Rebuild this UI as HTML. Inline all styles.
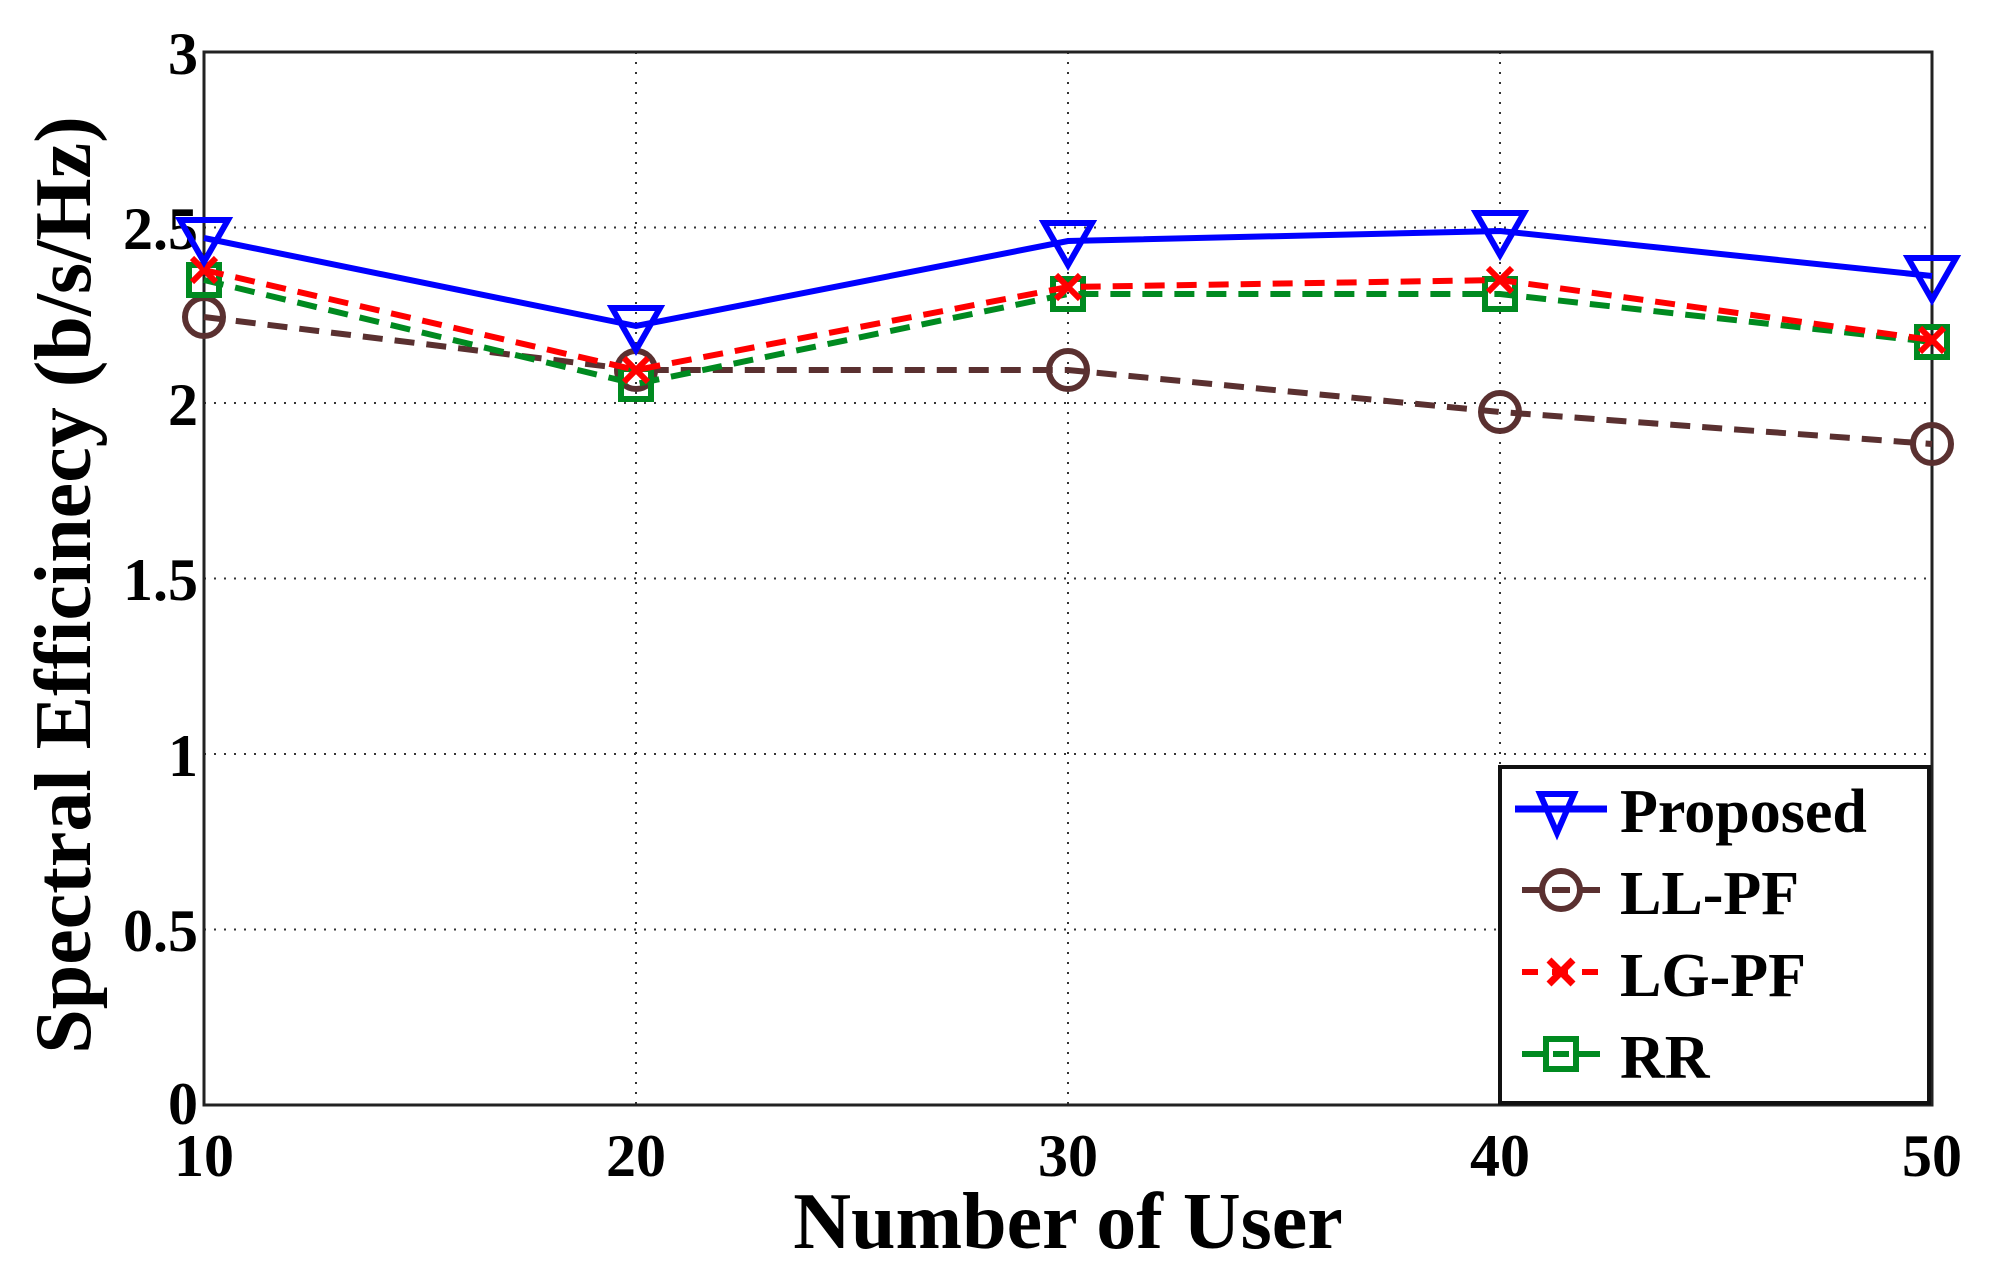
<!DOCTYPE html>
<html><head><style>body{margin:0;background:#fff}svg{display:block}</style></head><body>
<svg width="1993" height="1272" viewBox="0 0 1993 1272" xmlns="http://www.w3.org/2000/svg" font-family="Liberation Serif, serif" font-weight="bold">
<rect width="1993" height="1272" fill="#fff"/>
<g stroke="#333" stroke-width="2" stroke-dasharray="2,8">
<line x1="636" y1="52" x2="636" y2="1105"/><line x1="1068" y1="52" x2="1068" y2="1105"/><line x1="1500" y1="52" x2="1500" y2="1105"/>
<line x1="204" y1="227.5" x2="1932" y2="227.5"/><line x1="204" y1="403" x2="1932" y2="403"/><line x1="204" y1="578.5" x2="1932" y2="578.5"/><line x1="204" y1="754" x2="1932" y2="754"/><line x1="204" y1="929.5" x2="1932" y2="929.5"/>
</g>
<rect x="204" y="52" width="1728" height="1053" fill="none" stroke="#222" stroke-width="3"/>
<g font-size="60" text-anchor="end">
<text x="198" y="74">3</text><text x="198" y="249">2.5</text><text x="198" y="425">2</text><text x="198" y="600">1.5</text><text x="198" y="776">1</text><text x="198" y="951">0.5</text><text x="198" y="1124">0</text>
</g>
<g font-size="60" text-anchor="middle">
<text x="204" y="1176">10</text><text x="636" y="1176">20</text><text x="1068" y="1176">30</text><text x="1500" y="1176">40</text><text x="1932" y="1176">50</text>
</g>
<text x="1068" y="1248" font-size="80" text-anchor="middle">Number of User</text>
<text transform="translate(90,585) rotate(-90)" font-size="80" text-anchor="middle">Spectral Efficinecy (b/s/Hz)</text>
<!-- LL-PF -->
<g fill="none" stroke="#5a3030" stroke-width="6">
<polyline stroke-dasharray="20,12" points="204,317 636,370 1068,370 1500,412 1932,444"/>
<circle cx="204" cy="317" r="19"/><circle cx="636" cy="370" r="19"/><circle cx="1068" cy="370" r="19"/><circle cx="1500" cy="412" r="19"/><circle cx="1932" cy="444" r="19"/>
</g>
<!-- RR -->
<g fill="none" stroke="#008a20" stroke-width="6">
<polyline stroke-dasharray="20,12" points="204,280 636,384 1068,294 1500,294 1932,342"/>
<rect x="189" y="265" width="30" height="30"/><rect x="621" y="369" width="30" height="30"/><rect x="1053" y="279" width="30" height="30"/><rect x="1485" y="279" width="30" height="30"/><rect x="1917" y="327" width="30" height="30"/>
</g>
<!-- LG-PF -->
<g fill="none" stroke="#f00" stroke-width="6">
<polyline stroke-dasharray="20,12" points="204,270 636,370 1068,287 1500,280 1932,340"/>
<path d="M192,258l24,24M216,258l-24,24M624,358l24,24M648,358l-24,24M1056,275l24,24M1080,275l-24,24M1488,268l24,24M1512,268l-24,24M1920,328l24,24M1944,328l-24,24"/>
</g>
<!-- Proposed -->
<g fill="none" stroke="#00f" stroke-width="6">
<polyline points="204,238 636,326 1068,241 1500,231 1932,276"/>
<path d="M180,220h48l-24,42z M612,308h48l-24,42z M1044,223h48l-24,42z M1476,213h48l-24,42z M1908,258h48l-24,42z"/>
</g>
<!-- legend -->
<rect x="1500" y="767" width="429" height="336" fill="#fff" stroke="#111" stroke-width="4"/>
<g font-size="62">
<line x1="1515" y1="809" x2="1607" y2="809" stroke="#00f" stroke-width="7"/><path d="M1540,794h34l-17,39z" fill="none" stroke="#00f" stroke-width="6"/>
<text x="1620" y="832">Proposed</text>
<line x1="1522" y1="890" x2="1600" y2="890" stroke="#5a3030" stroke-width="6"/><circle cx="1561" cy="890" r="19" fill="#fff" stroke="#5a3030" stroke-width="6"/><line x1="1552" y1="890" x2="1570" y2="890" stroke="#5a3030" stroke-width="6"/>
<text x="1620" y="914">LL-PF</text>
<line x1="1522" y1="972" x2="1600" y2="972" stroke="#f00" stroke-width="6" stroke-dasharray="16,14"/><path d="M1549,960l24,24M1573,960l-24,24" stroke="#f00" stroke-width="7"/>
<text x="1620" y="996">LG-PF</text>
<line x1="1522" y1="1054" x2="1600" y2="1054" stroke="#008a20" stroke-width="6"/><rect x="1546" y="1039" width="30" height="30" fill="#fff" stroke="#008a20" stroke-width="6"/><line x1="1553" y1="1054" x2="1569" y2="1054" stroke="#008a20" stroke-width="6"/>
<text x="1620" y="1078">RR</text>
</g>
</svg>
</body></html>
